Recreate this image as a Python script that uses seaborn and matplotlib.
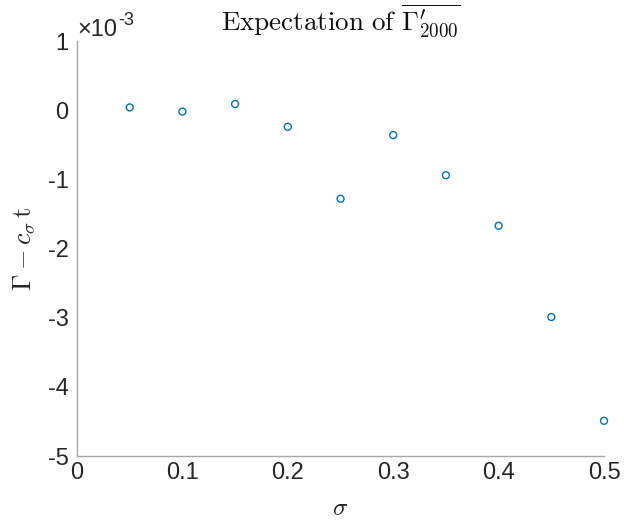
import matplotlib
matplotlib.use("Agg")
import matplotlib.pyplot as plt
import seaborn as sns
import pandas as pd

# data (y in units of 1e-3)
sigma = [0.05, 0.10, 0.15, 0.20, 0.25, 0.30, 0.35, 0.40, 0.45, 0.50]
gamma_dev = [0.04, -0.02, 0.09, -0.24, -1.28, -0.36, -0.94, -1.67, -2.99, -4.49]
x_ticks = [0, 0.1, 0.2, 0.3, 0.4, 0.5]
x_ticklabels = ["0", "0.1", "0.2", "0.3", "0.4", "0.5"]
y_ticks = [1, 0, -1, -2, -3, -4, -5]
y_ticklabels = ["1", "0", "-1", "-2", "-3", "-4", "-5"]

sns.set_theme(style="white")
plt.rcParams["font.family"] = ["Liberation Sans", "DejaVu Sans"]
plt.rcParams["mathtext.fontset"] = "cm"

df = pd.DataFrame({"sigma": sigma, "val": gamma_dev})

fig = plt.figure(figsize=(6.24, 5.26), dpi=100)
ax = fig.add_axes([0.1234, 0.133, 0.8446, 0.789])

sns.scatterplot(data=df, x="sigma", y="val", ax=ax, marker="o",
                facecolors="none", edgecolor="#0072BD", linewidth=1.0, s=25,
                clip_on=False)

ax.set_xlim(0, 0.5)
ax.set_ylim(-5, 1)
ax.set_xticks(x_ticks)
ax.set_xticklabels(x_ticklabels)
ax.set_yticks(y_ticks)
ax.set_yticklabels(y_ticklabels)

axcol = "#a6a6a6"
for s in ["top", "right"]:
    ax.spines[s].set_visible(False)
for s in ["left", "bottom"]:
    ax.spines[s].set_color(axcol)
    ax.spines[s].set_linewidth(1.0)
ax.tick_params(axis="both", direction="in", length=5, width=0.8, color=axcol,
               labelsize=17, labelcolor="#262626", pad=4)
ax.tick_params(axis="y", pad=6)

ax.set_xlabel(r"$\sigma$", fontsize=18, color="#262626", labelpad=9)
ax.set_ylabel(r"$\Gamma - c_\sigma\, \mathrm{t}$", fontsize=19, color="#262626", labelpad=8)
ax.set_title(r"$\mathrm{Expectation\ of}\ \overline{\Gamma^{\prime}_{2000}}$",
             fontsize=19.5, color="#111111", pad=8)

ax.text(0.0, 1.0, "\u00d710", transform=ax.transAxes, fontsize=17,
        color="#262626", ha="left", va="bottom")
ax.annotate("-3", xy=(0.0, 1.0), xycoords="axes fraction", xytext=(29.5, 9),
            textcoords="offset points", fontsize=13, color="#262626",
            ha="left", va="bottom")

fig.savefig("out.png", dpi=100)
